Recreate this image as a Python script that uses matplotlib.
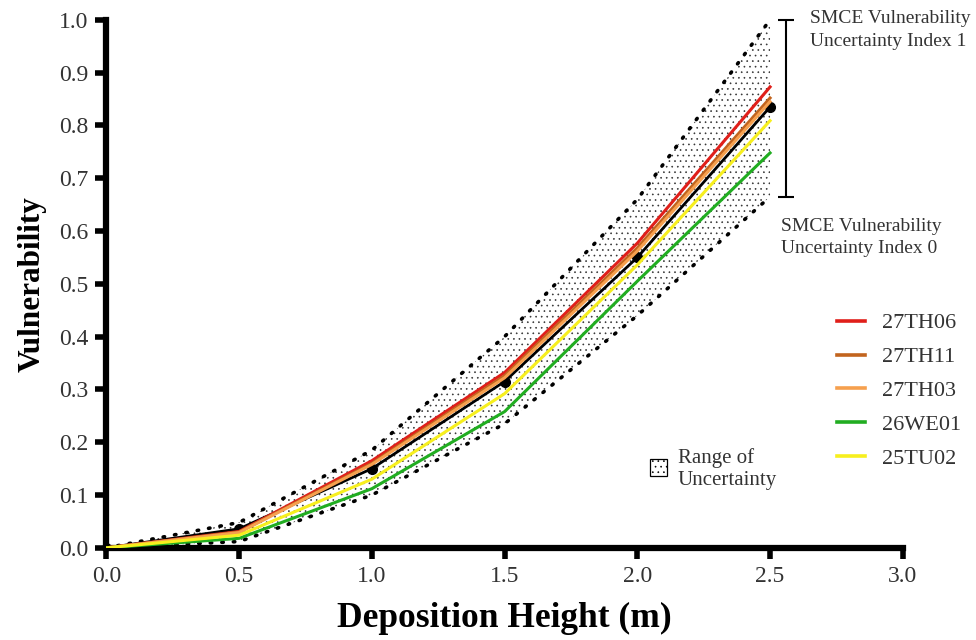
import matplotlib

matplotlib.use("Agg")
import matplotlib.pyplot as plt
from matplotlib.patches import Rectangle

plt.rcParams.update(
    {
        "font.family": ["Liberation Serif", "DejaVu Serif"],
        "hatch.linewidth": 0.45,
    }
)

# deposition heights (m)
heights = [0.0, 0.5, 1.0, 1.5, 2.0, 2.5]

# building curves
series_names = ["27TH06", "27TH11", "27TH03", "26WE01", "25TU02"]
series_colors = ["#e01f1a", "#c2641e", "#f6a04e", "#21ad21", "#f7ef1e"]
v_27th06 = [0.0, 0.031, 0.165, 0.332, 0.577, 0.873]
v_27th11 = [0.0, 0.030, 0.160, 0.326, 0.568, 0.852]
v_27th03 = [0.0, 0.029, 0.158, 0.322, 0.562, 0.845]
v_26we01 = [0.0, 0.018, 0.112, 0.258, 0.505, 0.748]
v_25tu02 = [0.0, 0.024, 0.130, 0.292, 0.536, 0.809]
series_values = [v_27th06, v_27th11, v_27th03, v_26we01, v_25tu02]

# SMCE mean curve and uncertainty range
v_mean = [0.0, 0.036, 0.150, 0.315, 0.550, 0.835]
v_upper = [0.0, 0.048, 0.185, 0.400, 0.660, 1.000]
v_lower = [0.0, 0.012, 0.100, 0.235, 0.440, 0.665]

fig = plt.figure(figsize=(9.76, 6.4), dpi=100)
ax = fig.add_axes([0.109, 0.144, 0.816, 0.825])

ax.fill_between(heights, v_lower, v_upper, facecolor="none", edgecolor="#333333",
                hatch="...", linewidth=0)
for bound in (v_upper, v_lower):
    ax.plot(heights, bound, color="black", lw=2.6, ls=(0, (0.4, 2.8)),
            dash_capstyle="round")

ax.plot(heights, v_mean, color="black", lw=2.0, marker="o", markersize=7, zorder=2.5)
for name, col, vals in zip(series_names, series_colors, series_values):
    ax.plot(heights, vals, color=col, lw=2.2, label=name, zorder=3)

# uncertainty index bracket
ax.errorbar([2.56], [(v_upper[-1] + v_lower[-1]) / 2],
            yerr=[[(v_upper[-1] - v_lower[-1]) / 2]], color="black",
            elinewidth=1.5, capsize=6, capthick=1.5, clip_on=False)
ax.text(2.652, 1.018, "SMCE Vulnerability\nUncertainty Index 1", fontsize=14,
        color="#333333", va="top", ha="left", linespacing=1.4, clip_on=False)
ax.text(2.543, 0.625, "SMCE Vulnerability\nUncertainty Index 0", fontsize=14,
        color="#333333", va="top", ha="left", linespacing=1.4, clip_on=False)

# range of uncertainty key
ax.add_patch(Rectangle((2.047, 0.136), 0.064, 0.032, facecolor="white",
                       edgecolor="black", hatch="...", lw=0.9))
ax.text(2.153, 0.149, "Range of\nUncertainty", fontsize=15, color="#333333",
        va="center", ha="left", linespacing=1.25)

leg = ax.legend(loc="upper left", bbox_to_anchor=(0.918, 0.445), frameon=False,
                fontsize=16, handlelength=1.25, handletextpad=0.75,
                labelspacing=0.6, borderaxespad=0, borderpad=0)
for t in leg.get_texts():
    t.set_color("#333333")
for h in leg.legend_handles:
    h.set_linewidth(2.6)

ax.set_xlim(0, 3.0)
ax.set_ylim(0, 1.0)
ax.set_xticks([0.0, 0.5, 1.0, 1.5, 2.0, 2.5, 3.0])
ax.set_yticks([i / 10 for i in range(11)])
ax.xaxis.set_major_formatter(lambda v, p: f"{v:.1f}")
ax.yaxis.set_major_formatter(lambda v, p: f"{v:.1f}")
ax.tick_params(width=4, length=8, labelsize=17, labelcolor="#333333", pad=5)

for side in ("top", "right"):
    ax.spines[side].set_visible(False)
for side in ("left", "bottom"):
    ax.spines[side].set_linewidth(4.5)

ax.set_xlabel("Deposition Height (m)", fontsize=25.5, fontweight="bold", labelpad=11)
ax.set_ylabel("Vulnerability", fontsize=22.5, fontweight="bold", labelpad=9)

fig.savefig("out.png", dpi=100)
